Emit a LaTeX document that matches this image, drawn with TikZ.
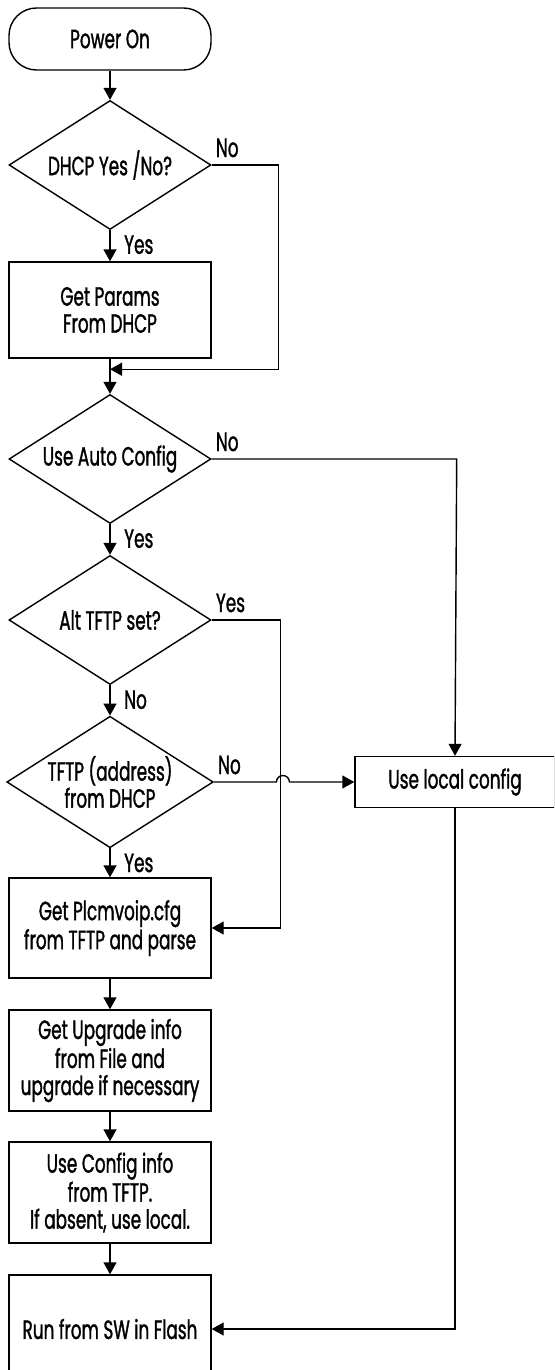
\documentclass[tikz,border=0pt]{standalone}
\usepackage{fontspec}
\setmainfont{Poppins}[FakeStretch=0.64, FakeBold=1.2]
\usetikzlibrary{shapes.geometric,arrows.meta,calc}

\begin{document}
\begin{tikzpicture}[thick, >={Triangle[length=0.24cm,width=0.26cm]},
    font=\fontsize{15}{15.4}\selectfont,
    start_style/.style = {draw, rectangle, rounded corners=0.55cm, minimum width=4.04cm, minimum height=1.24cm},
    box_style/.style = {draw, rectangle, align=center, minimum width=4.04cm, inner sep=0},
    decision_style/.style = {draw, diamond, aspect=1.57, align=center, inner sep=0,
                             minimum width=4.04cm, minimum height=2.58cm},
    label_style/.style = {inner sep=2pt}]

\useasboundingbox (0,0) rectangle (11.08,-27.4);
\clip (0,0) rectangle (11.08,-27.4);

\node[start_style] (1) at (2.2,-0.78) {Power On};

\node[decision_style, below of=1, node distance=2.52cm] (2) {DHCP Yes /No?};

\node[box_style, below of=2, node distance=2.9cm, minimum height=1.92cm] (3) {
    Get Params\\From DHCP};

\node[decision_style, below of=3, node distance=2.98cm] (4) {Use Auto Config};

\node[decision_style, below of=4, node distance=3.22cm] (5) {Alt TFTP set?};

\node[decision_style, below of=5, node distance=3.24cm] (6) {
    TFTP (address)\\from DHCP};

\node[box_style, right of=6, node distance=6.9cm, minimum width=4.0cm, minimum height=1.02cm] (7) {
    Use local config};

\node[box_style, below of=6, node distance=2.92cm, minimum height=2.0cm] (8) {
    Get Plcmvoip.cfg\\from TFTP and parse};

\node[box_style, below of=8, node distance=2.65cm, minimum height=2.02cm] (9) {
    Get Upgrade info\\from File and\\upgrade if necessary};

\node[box_style, below of=9, node distance=2.64cm, minimum height=2.02cm] (10) {
    Use Config info\\from TFTP.\\If absent, use local.};

\node[box_style, below of=10, node distance=2.73cm, minimum height=2.16cm] (11) {
    Run from SW in Flash};

% join point of the DHCP bypass
\coordinate (12) at ($(3.south)!0.3!(4.north)$);

% Power on to DHCP
\draw[->] (1) -- (2);

% DHCP yes
\draw[->] (2) -- node[label_style, anchor=north west, pos=0, xshift=0.2cm, yshift=-0.02cm] {Yes} (3);

% DHCP no: bypass
\draw[->] (2.east) -- node[label_style, anchor=south west, pos=0, yshift=0.07cm] {No} ++(1.34,0) |- (12);

% Params to auto config
\draw[->] (3) -- (4);

% Auto config no
\draw[->] (4.east) -- node[label_style, anchor=south west, pos=0, yshift=0.07cm] {No} ++(4.9,0) -- (7.north);

% Auto config yes
\draw[->] (4) -- node[label_style, anchor=north west, pos=0, xshift=0.2cm, yshift=-0.02cm] {Yes} (5);

% Alt TFTP yes
\draw[->] (5.east) -- node[label_style, anchor=south west, pos=0, yshift=0.07cm] {Yes} ++(1.38,0) |- (8.east);

% Alt TFTP no
\draw[->] (5) -- node[label_style, anchor=north west, pos=0, xshift=0.2cm, yshift=-0.02cm] {No} (6);

% TFTP no: jump over the Alt TFTP line
\draw[->] (6.east) -- node[label_style, anchor=south west, pos=0, yshift=0.07cm] {No} ++(1.25,0)
    arc (180:0:0.13) -- (7.west);

% TFTP yes
\draw[->] (6) -- node[label_style, anchor=north west, pos=0, xshift=0.2cm, yshift=-0.02cm] {Yes} (8);

% down the main column
\draw[->] (8) -- (9);
\draw[->] (9) -- (10);
\draw[->] (10) -- (11);

% local config to run
\draw[->] (7.south) |- (11.east);

\end{tikzpicture}
\end{document}
